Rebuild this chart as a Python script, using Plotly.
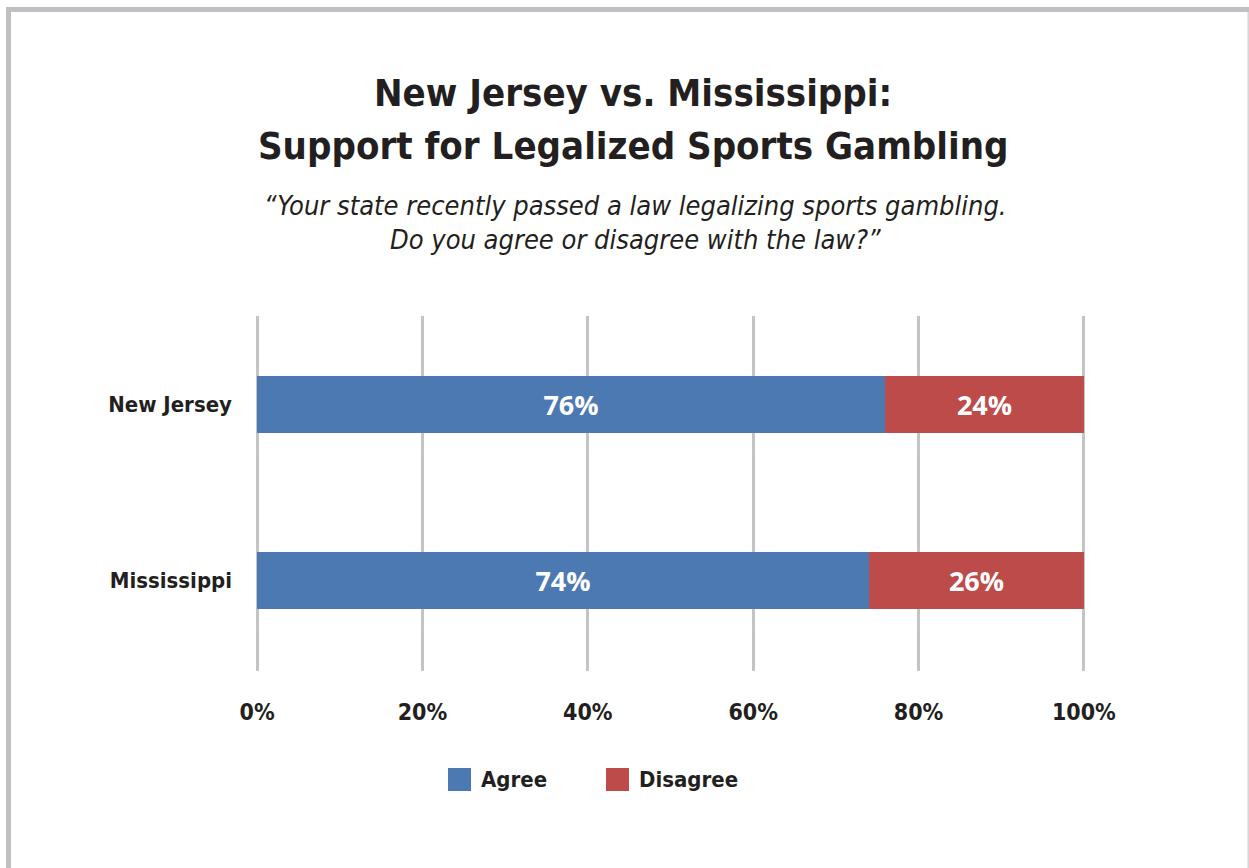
import plotly.graph_objects as go

# Survey responses (percent)
states = ["Mississippi", "New Jersey"]
series_names = ["Agree", "Disagree"]
agree = [74, 76]
disagree = [26, 24]
x_ticks = [0, 20, 40, 60, 80, 100]
x_tick_labels = ["0%", "20%", "40%", "60%", "80%", "100%"]

title_lines = ["New Jersey vs. Mississippi:", "Support for Legalized Sports Gambling"]
subtitle_lines = ["\u201cYour state recently passed a law legalizing sports gambling.",
                  "Do you agree or disagree with the law?\u201d"]

colors = ["#4c79b2", "#bc4b4a"]
COND = "DejaVu Sans Condensed, Roboto, sans-serif"
INK = "#231f20"

W, H = 1249, 868
L, R, T, B = 253, 161, 316, 868 - 671
PW, PH = W - L - R, H - T - B


def px(x):
    return (x - L) / PW


def py(y):
    return (H - B - y) / PH


fig = go.Figure()
for name, vals, col in zip(series_names, [agree, disagree], colors):
    fig.add_trace(go.Bar(
        y=states, x=vals, name=name, orientation="h",
        marker=dict(color=col, line=dict(width=0)),
        width=0.324,
        texttemplate="%{x:.0f}%", textposition="inside",
        insidetextanchor="middle",
        textfont=dict(family="Open Sans", size=27, color="white", weight="bold"),
        showlegend=False, hoverinfo="skip",
    ))

shapes = [
    # frame
    dict(type="rect", xref="paper", yref="paper", x0=px(6), x1=px(1249), y0=py(7), y1=py(12),
         fillcolor="#c0c0c4", line=dict(width=0), layer="below"),
    dict(type="rect", xref="paper", yref="paper", x0=px(6), x1=px(11), y0=py(7), y1=py(868),
         fillcolor="#c0c0c4", line=dict(width=0), layer="below"),
    dict(type="rect", xref="paper", yref="paper", x0=px(1247.5), x1=px(1249), y0=py(12), y1=py(868),
         fillcolor="#d6d6d9", line=dict(width=0), layer="below"),
]

annotations = []
for line, yc in zip(title_lines, [93.5, 145.5]):
    annotations.append(dict(text=line, xref="paper", yref="paper", x=px(633), y=py(yc),
                            xanchor="center", yanchor="middle", showarrow=False,
                            font=dict(family=COND, size=38, color=INK, weight="bold")))
for line, yc in zip(subtitle_lines, [205.5, 239]):
    annotations.append(dict(text=line, xref="paper", yref="paper", x=px(635), y=py(yc),
                            xanchor="center", yanchor="middle", showarrow=False,
                            font=dict(family=COND, size=27, color=INK, style="italic")))

# legend
legend_x = [448, 606]
for name, col, lx in zip(series_names, colors, legend_x):
    shapes.append(dict(type="rect", xref="paper", yref="paper", x0=px(lx), x1=px(lx + 23),
                       y0=py(768), y1=py(791), fillcolor=col, line=dict(width=0)))
    annotations.append(dict(text=name, xref="paper", yref="paper", x=px(lx + 31), y=py(779.5),
                            xanchor="left", yanchor="middle", showarrow=False,
                            font=dict(family=COND, size=22, color=INK, weight="bold")))

fig.update_layout(
    width=W, height=H,
    margin=dict(l=L, r=R, t=T, b=B, pad=0),
    barmode="stack",
    bargap=0,
    plot_bgcolor="white", paper_bgcolor="white",
    shapes=shapes, annotations=annotations,
    xaxis=dict(range=[-0.5, 100.5], tickvals=x_ticks, ticktext=x_tick_labels,
               showgrid=True, gridcolor="#c4c4c6", gridwidth=3, zeroline=False,
               showline=False, ticks="", ticklabelstandoff=25,
               tickfont=dict(family=COND, size=23, color=INK, weight="bold"), fixedrange=True),
    yaxis=dict(range=[-0.514, 1.503], showgrid=False, zeroline=False, showline=False,
               ticks="", ticklabelstandoff=20,
               tickfont=dict(family=COND, size=22, color=INK, weight="bold"), fixedrange=True),
    showlegend=False,
)

fig.write_html("out.html")
